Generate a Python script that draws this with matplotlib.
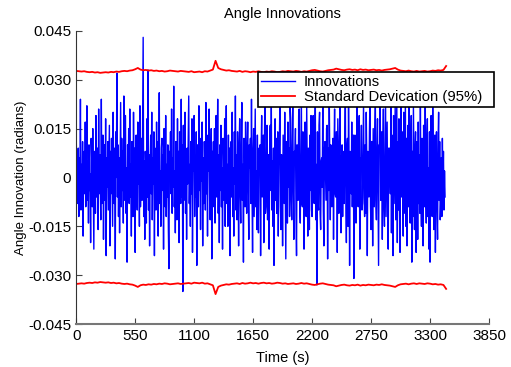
import numpy as np
import matplotlib
matplotlib.use('Agg')
import matplotlib.pyplot as plt

plt.rcParams['font.family'] = ['Liberation Sans', 'DejaVu Sans']

# innovation samples every 5 s, in milliradians
innov_mrad = [
    14, 2, -8, 5, 9, -12, 6, -3, 24, -10, 4, -6, 11, -18, 3, 8, -5, 17, -9, 2,
    22, -7, 5, -14, 10, -4, 1, -20, 12, 6, -9, 15, -3, -22, 8, 4, -11, 19, -6, 3,
    9, -16, 21, -5, 7, -2, -13, 24, -8, 5, 13, -19, 2, 10, -7, 18, -24, 6, -3, 11,
    -10, 4, 16, -21, 8, -5, 12, -2, -15, 20, 3, -8, 9, -25, 14, 0, 32, -6, 10, -12,
    6, -17, 2, 23, -9, 12, -4, 8, -14, 25, -7, 5, 19, -11, 3, -26, 10, -3, 15, -8,
    21, -6, 4, -18, 11, 2, -12, 20, -5, 9, -23, 7, 13, -4, -10, 17, -2, 6, -15, 22,
    -9, 3, 12, -7, 16, 43, -12, 5, -19, 8, 2, -14, 18, -6, 33, -10, 7, -21, 4, 13,
    -5, 20, -13, 6, -2, 14, -24, 9, 3, -10, 17, -7, 11, -18, 5, 26, -8, 2, -15, 9,
    12, -4, 7, -22, 15, 1, -9, 19, -12, 4, -6, 10, -16, -28, 8, 3, 14, -5, 21, -11,
    6, -3, 28, -9, 2, -17, 11, 5, -13, 18, -4, 8, -20, 14, 1, -8, 24, -6, 10, -35,
    16, -7, 3, 20, -11, 6, -19, 9, -2, 13, 25, -8, 4, -15, 11, -5, 18, -23, 7, 2,
    19, -12, 5, -6, 14, -27, 10, 3, -9, 22, -4, 8, -16, 12, -1, 17, -21, 6, -8, 11,
    4, -10, 23, -5, 9, -18, 13, 2, 21, -7, -13, 6, 15, -25, 8, -3, 11, -9, 15, -14,
    5, 19, -6, 2, 24, -11, 7, -20, 10, -4, 16, -9, 3, -22, 12, 5, -7, 18, -15, 8,
    22, -8, 4, -15, 13, -3, 9, -24, 6, 11, -6, 20, -12, 3, -18, 14, -2, 25, -10, 7,
    -13, 14, 2, -21, 9, 18, -5, -14, 11, 23, -7, 4, -26, 12, 6, -9, 17, -3, -11, 9,
    17, -6, -19, 10, 3, 12, -8, 24, -4, -23, 8, 15, -12, 5, 21, -9, 2, -16, 13, -5,
    -17, 9, 3, 10, -24, 7, 19, -6, 2, 13, -20, 8, 25, -11, -9, 6, 16, -13, 7, -4,
    -22, 11, 16, -4, 22, -10, 5, -15, 9, -27, 3, 18, -7, 12, -11, 6, 14, -18, 4, 10,
    24, -9, -16, 7, 5, -21, 13, 2, -8, 20, -3, -25, 11, 6, -14, 17, -3, 9, -12, 22,
    18, -7, -13, 10, 23, -5, -19, 8, 7, 15, -11, -24, 10, 4, -7, 19, 21, -9, -14, 6,
    25, -8, -9, 14, 12, -22, 5, 17, -5, -12, 22, 3, -18, 9, 8, -16, 13, -4, 19, -10,
    -12, 7, 19, -6, -8, 11, 24, -13, 4, -33, 14, -7, -10, 16, 20, -11, -16, 5, 6, -3,
    23, -10, -21, 8, 11, 2, -7, 15, 16, -25, 9, -4, 25, 7, -13, 10, 4, -9, -6, 12,
    -19, 8, 21, -5, -6, 14, 14, -23, 18, 3, -11, 10, 23, -8, -17, 6, 10, -12, 8, 2,
    -8, 11, 25, -6, -20, 9, 12, -15, 22, 4, -27, 8, 7, -5, 17, -9, 6, 13, -31, -4,
    13, -8, -14, 9, 24, -5, -9, 12, 19, -22, 6, 3, 16, -10, -8, 7, 23, -6, -12, 10,
    -11, 20, 5, -24, 8, -2, -6, 14, 25, -9, -16, 11, 11, -21, 15, 4, -9, 13, 22, -7,
    -13, 9, 18, -6, -27, 10, 10, 24, -7, -4, 14, -19, 8, 21, -9, -15, 6, 25, -12, 3,
    17, -8, -22, 9, 9, 4, -5, 23, -17, 13, 6, -24, 19, -8, 8, 22, -13, 5, 25, -20,
    11, -10, 18, -6, -23, 12, 24, -6, 14, 3, -18, 20, -11, 7, 23, -15, 12, -21, 6, 16,
    -9, 25, -4, -14, 9, 19, -26, 8, -12, 22, 4, -16, 8, 14, -23, 11, 6, -19, 17, -8,
    7, -11, 23, -5, -15, 12, 2, -21, 16, 6, -9, 25, -4, -14, 9, 18, -12, 3, -22, 14,
    -26, 10, 19, -7, -12, 22, 5, -16, 8, 13, -23, 6, 14, -10, -19, 11, 20, -7, 11, -13,
    -7, 6, -12, 12, -3, 8, -10, 2, -6,
]

# 95% bound every 25 s, in milliradians (lower bound mirrors it)
std_mrad = [
    32.7, 32.6, 32.5, 32.6, 32.4, 32.3, 32.4, 32.2, 32.3, 32.1,
    32.2, 32.3, 32.2, 32.4, 32.3, 32.5, 32.4, 32.6, 32.7, 32.6,
    32.8, 32.9, 33.2, 33.6, 33.1, 32.9, 33.0, 32.8, 32.9, 32.7,
    32.8, 32.6, 32.7, 32.5, 32.6, 32.8, 32.7, 32.6, 32.5, 32.7,
    32.6, 32.5, 32.4, 32.6, 32.3, 32.4, 32.5, 32.3, 32.6, 32.5,
    32.8, 33.1, 35.8, 33.6, 33.2, 33.0, 32.8, 32.9, 32.7, 32.6,
    32.5, 32.7, 32.4, 32.6, 32.5, 32.3, 32.5, 32.4, 32.6, 32.4,
    32.3, 32.5, 32.4, 32.6, 32.5, 32.3, 32.4, 32.6, 32.5, 32.7,
    32.6, 32.5, 32.7, 32.6, 32.4, 32.6, 32.5, 32.7, 32.9, 33.0,
    32.8, 32.6, 32.5, 32.7, 32.9, 33.0, 33.1, 33.4, 33.2, 33.0,
    32.9, 33.1, 33.2, 33.0, 33.1, 32.9, 33.2, 33.0, 33.1, 32.9,
    33.0, 33.1, 32.9, 33.0, 32.8, 33.0, 33.1, 33.2, 33.4, 33.6,
    33.1, 32.8, 32.7, 32.6, 32.8, 32.6, 32.5, 32.7, 32.5, 32.6,
    32.7, 32.5, 32.6, 32.8, 32.7, 32.9, 32.8, 33.0, 34.2,
]

t = np.arange(len(innov_mrad)) * 5.0
std_t = np.arange(len(std_mrad)) * 25.0
innov = np.array(innov_mrad) * 1e-3
std = np.array(std_mrad) * 1e-3

fig = plt.figure(figsize=(5.11, 3.67), dpi=100)
ax = fig.add_axes([0.149, 0.117, 0.808, 0.799])

ax.plot(t, innov, color='#0000ff', linewidth=1.0, label='Innovations')
ax.plot(std_t, std, color='#ff0000', linewidth=1.3, label='Standard Devication (95%)')
ax.plot(std_t, -std, color='#ff0000', linewidth=1.3)

ax.set_xlim(0, 3850)
ax.set_ylim(-0.045, 0.045)
ax.set_xticks(np.arange(0, 3851, 550))
ax.set_yticks([-0.045, -0.030, -0.015, 0, 0.015, 0.030, 0.045])
ax.set_yticklabels(['-0.045', '-0.030', '-0.015', '0', '0.015', '0.030', '0.045'])
ax.tick_params(direction='in', length=4, labelsize=11, width=0.8, color='#444444')

ax.spines['top'].set_visible(False)
ax.spines['right'].set_visible(False)
ax.spines['left'].set_color('#333333')
ax.spines['bottom'].set_color('#777777')
ax.spines['bottom'].set_linewidth(1.5)

ax.set_title('Angle Innovations', fontsize=10.5, pad=9)
ax.set_xlabel('Time (s)', fontsize=10.5, labelpad=6)
ax.set_ylabel('Angle Innovation (radians)', fontsize=9.5, labelpad=0.5)

leg = ax.legend(loc='upper left', bbox_to_anchor=(0.44, 0.74, 0.572, 0.119), mode='expand',
                fontsize=10.7, frameon=True, fancybox=False, borderpad=0.2,
                handlelength=2.3, handletextpad=0.6, labelspacing=0.05, borderaxespad=0)
leg.get_frame().set_edgecolor('black')
leg.get_frame().set_linewidth(1.2)
leg.get_frame().set_alpha(1.0)

fig.savefig('out.png', dpi=100)
